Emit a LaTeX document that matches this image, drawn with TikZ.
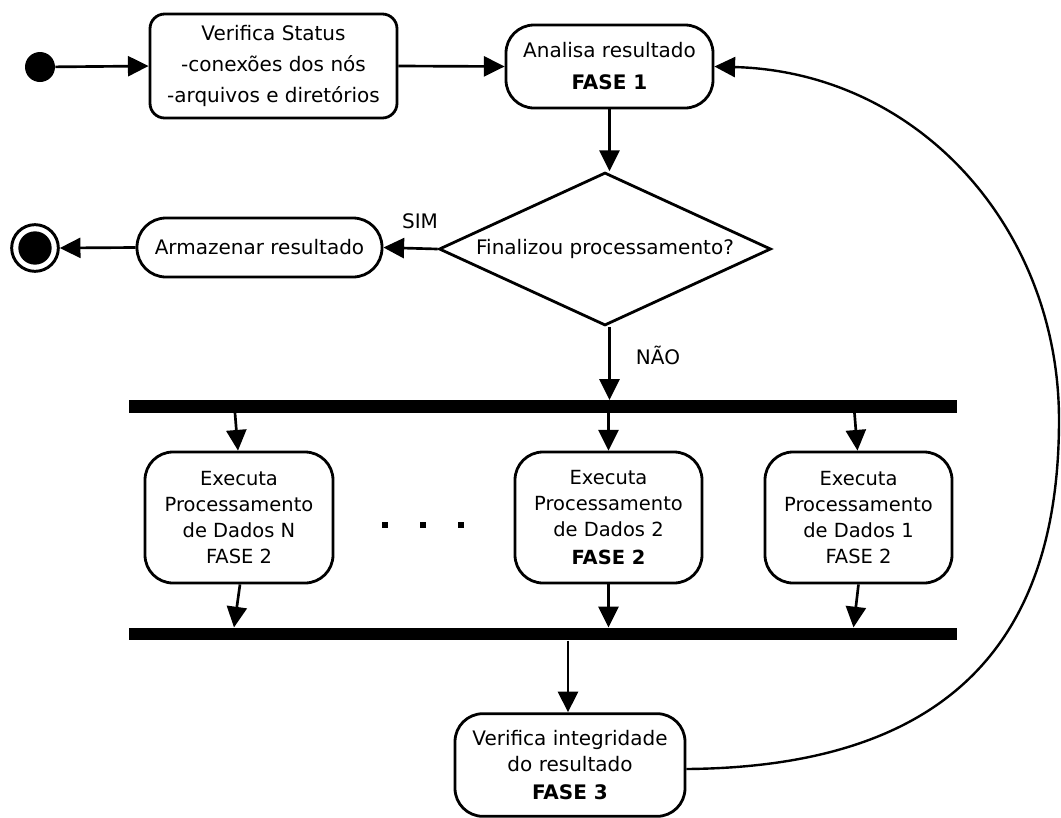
\documentclass[tikz,border=0pt]{standalone}
\usepackage{fontspec}
\setmainfont{DejaVu Sans}
\usetikzlibrary{shapes.geometric,arrows.meta,calc}
\begin{document}
\begin{tikzpicture}[x=0.75pt,y=-0.75pt,
  box/.style={draw,line width=2.1pt,rounded corners=#1,align=center,inner sep=0pt},
  box/.default=21pt,
  arr/.style={line width=2pt,-{Triangle[length=15.5pt,width=15pt]}},
  bar/.style={fill=black,inner sep=0pt,minimum width=621pt,minimum height=9.5pt},
  lbl/.style={font=\fontsize{15}{18}\selectfont,inner sep=0pt},
  dotsq/.style={fill=black,inner sep=0pt,minimum size=4.5pt}
]
\useasboundingbox (0,0) rectangle (1061,818);

% nodes
\node[circle,fill=black,inner sep=0pt,minimum size=22.5pt] (start) at (40,67) {};
\node[box=11pt,minimum width=185.25pt,minimum height=78pt,font=\fontsize{15}{23.5}\selectfont] (vs) at (273.5,66)
  {Verifica Status\\-conexões dos nós\\-arquivos e diretórios};
\node[box,minimum width=155.25pt,minimum height=62.25pt,font=\fontsize{15}{24}\selectfont] (an) at (609.5,66.5)
  {Analisa resultado\\\textbf{FASE 1}};
\node[diamond,draw,line width=2.1pt,inner sep=0pt,aspect=2.17,minimum width=249pt,minimum height=114.75pt,font=\fontsize{15}{18}\selectfont] (dec) at (605,249)
  {Finalizou processamento?};
\node[box=21.75pt,minimum width=183.75pt,minimum height=44.25pt,font=\fontsize{15}{18}\selectfont] (ar) at (259.5,247.5)
  {Armazenar resultado};
\node[circle,draw,line width=2.2pt,inner sep=0pt,minimum size=35pt] (end) at (35,248) {};
\node[circle,fill=black,inner sep=0pt,minimum size=25pt] (endin) at (end) {};

\node[bar] (fork1) at (543,406.5) {};
\node[bar] (fork2) at (543,634) {};

\node[box,minimum width=141pt,minimum height=98.25pt,font=\fontsize{14.6}{19.3}\selectfont] (bN) at (239,517.5)
  {Executa\\Processamento\\de Dados N\\FASE 2};
\node[box,minimum width=140.25pt,minimum height=98.25pt,font=\fontsize{14.6}{19.3}\selectfont] (b2) at (608.5,517.5)
  {Executa\\Processamento\\de Dados 2\\[1.5pt]\textbf{FASE 2}};
\node[box,minimum width=140.25pt,minimum height=98.25pt,font=\fontsize{14.6}{19.3}\selectfont] (b1) at (858.5,517.5)
  {Executa\\Processamento\\de Dados 1\\FASE 2};

\node[dotsq] (d1) at (385,525) {};
\node[dotsq] (d2) at (423,525) {};
\node[dotsq] (d3) at (461,525) {};

\node[box,minimum width=172.5pt,minimum height=77pt,font=\fontsize{15}{19.5}\selectfont] (vi) at (570,765)
  {Verifica integridade\\do resultado\\[2pt]\textbf{FASE 3}};

\node[lbl] (sim) at (420,221) {SIM};
\node[lbl] (nao) at (658,355) {NÃO};

% helper coordinates
\coordinate (f1n) at ($(bN.north)+(-4,0)$);
\coordinate (t1n) at ($(bN.north)+(-1,0)$);
\coordinate (f1a) at ($(b1.north)+(-4,0)$);
\coordinate (t1a) at ($(b1.north)+(-1,0)$);
\coordinate (sN) at ($(bN.south)+(1,0)$);
\coordinate (eN) at ($(bN.south)+(-5,0)$);
\coordinate (s1) at ($(b1.south)+(0,0)$);
\coordinate (e1) at ($(b1.south)+(-5,0)$);
\coordinate (vtop) at ($(vi.north)+(-2,0)$);

% connectors
\draw[arr] (start) -- (vs.west);
\draw[arr] (vs.east) -- (an.west);
\draw[arr] (an.south) -- (an.south |- dec.north);
\draw[arr] (dec.west) -- (ar.east);
\draw[arr] (ar.west) -- (end.east);
\draw[arr] (dec.south -| an.south) -- (an.south |- fork1.north);

\draw[arr] (f1n |- fork1.south) -- (t1n);
\draw[arr] (b2.north |- fork1.south) -- (b2.north);
\draw[arr] (f1a |- fork1.south) -- (t1a);

\draw[arr] (sN) -- (eN |- fork2.north);
\draw[arr] (b2.south) -- (b2.south |- fork2.north);
\draw[arr] (s1) -- (e1 |- fork2.north);

\draw[arr] (vtop |- fork2.south) -- (vtop);

\draw[line width=1.8pt,-{Triangle[length=15.5pt,width=15pt]}] ([yshift=-3pt]vi.east) .. controls (950,767) and (1059,640) .. (1059,420)
  .. controls (1059,230) and (920,72) .. (an.east);
\end{tikzpicture}
\end{document}
